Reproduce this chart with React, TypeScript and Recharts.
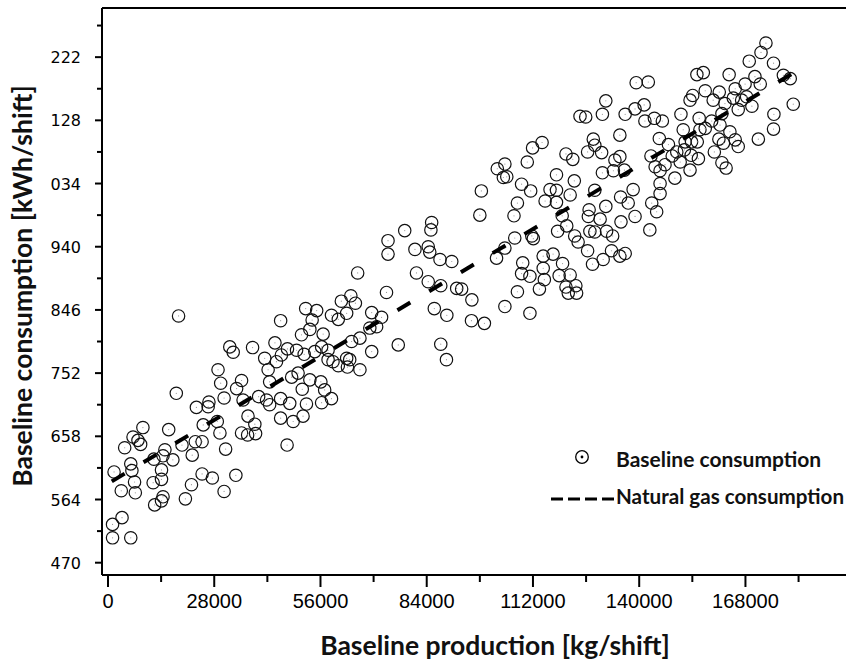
import React from 'react';
import { ScatterChart, Scatter, XAxis, YAxis, ReferenceLine, Legend, Label } from 'recharts';

// baseline production [kg/shift] of each shift
const baselineProduction = [
  18600, 18000, 45500, 52100, 55000, 53800, 58900, 51000, 53200, 56700,
  32100, 33000, 38100, 44000, 41300, 42200, 44400, 45700, 47300, 49700,
  51700, 54500, 58000, 56300, 58000, 59300, 29000, 29700, 30600, 33900,
  35200, 35600, 23300, 26400, 26600, 25100, 28800, 29500, 36900, 38700,
  35200, 36800, 38900, 39700, 41800, 42600, 45500, 45500, 47900, 48800,
  51400, 52300, 56300, 58900, 57100, 56100, 53200, 51200, 50100, 48400,
  42600, 47200, 31000, 33700, 30600, 27500, 24800, 22000, 20400, 22200,
  23000, 24800, 19500, 9200, 6600, 7900, 8600, 4400, 16000, 15000,
  12100, 14500, 17100, 14100, 14100, 11900, 7000, 7200, 3500, 6000,
  6300, 1600, 14500, 12300, 14100, 1200, 3700, 1200, 6000,
  65800, 73400, 61500, 64000, 65200, 60700, 62900, 69500, 72100, 70800,
  69000, 64200, 66400, 69500, 62900, 63700, 66400, 60700, 63100,
  76500, 86000, 89300, 87700, 89200, 95900, 95800, 99200, 104600, 111200,
  121300, 123500,
  85300, 85100, 78200, 73800, 73800, 80900, 84400, 84800, 81300, 84400, 87700,
  131200, 124400, 125900, 130300, 136300, 134900, 114400, 111900, 127900, 128300,
  126400, 130100, 120700, 122500, 134900, 133600, 133200, 130300, 136100, 104600,
  102600, 104200, 105100, 110500, 118200, 122900, 109000, 111400, 116500, 118200,
  121800, 115200, 118200, 128300, 135100, 137100, 98400, 98000, 107900, 107000,
  119700, 120900, 126600, 126800, 129700, 131200, 135200, 118500, 123000, 123900,
  127000, 128300, 131400, 133000, 111700, 112100, 107200, 104600, 102400, 87500,
  90600, 114700, 117300, 119800, 126400, 127700, 130500, 132700, 134900, 136300,
  109300, 109000, 111200, 114700, 115000, 118900, 120700, 121800, 123300, 113700,
  107900, 91900, 93200,
  173400, 172100, 169000, 175400, 178000, 179800, 180600, 175500, 175400, 171400,
  155200, 156900, 163700, 170500, 171900, 167900, 165300, 157400, 161100, 153400,
  154100, 159500, 164800, 167000, 166100, 168300, 169700, 162600, 161800, 151000,
  155800, 159100, 161300, 163900, 165300, 166100, 161000, 162200, 159800, 161800,
  162900, 151600, 152100, 151900, 156000, 157400, 153800, 155300, 153700, 155600,
  149900, 148700, 150800, 147700, 145300, 143100, 144200, 145500, 149400, 153400,
  146800, 145500, 138400, 145500, 143300, 144600, 138900, 138900, 141300, 141500,
  144000, 146100, 139200, 142400, 142800,
];

// baseline consumption [kWh/shift] of the same shifts
const baselineConsumption = [
  837, 722, 830, 848, 845, 831, 838, 809, 817, 810,
  791, 783, 790, 797, 774, 757, 769, 779, 788, 786,
  780, 784, 786, 791, 772, 769, 757, 737, 715, 729,
  741, 712, 701, 702, 709, 675, 680, 663, 688, 676,
  663, 660, 662, 717, 712, 705, 714, 685, 707, 680,
  688, 706, 708, 714, 727, 739, 742, 728, 752, 746,
  739, 645, 639, 600, 576, 596, 602, 586, 565, 630,
  650, 650, 645, 671, 657, 652, 646, 641, 668, 638,
  624, 629, 623, 608, 594, 589, 590, 574, 577, 617,
  607, 605, 568, 556, 562, 527, 537, 507, 507,
  901, 872, 859, 867, 856, 832, 841, 842, 835, 821,
  819, 799, 804, 784, 774, 772, 757, 763, 761,
  794, 848, 838, 795, 772, 861, 830, 826, 851, 841,
  871, 871,
  976, 965, 964, 949, 929, 936, 940, 932, 901, 888, 882,
  1157, 1134, 1133, 1137, 1137, 1106, 1095, 1087, 1100, 1091,
  1081, 1080, 1078, 1070, 1074, 1069, 1053, 1050, 1054, 1063,
  1056, 1043, 1044, 1066, 1047, 1038, 1033, 1023, 1025, 1024,
  1017, 1008, 1006, 1024, 1014, 1005, 1023, 987, 1005, 986,
  986, 971, 985, 995, 981, 1000, 977, 963, 956, 947,
  963, 962, 963, 956, 956, 952, 953, 938, 923, 921,
  918, 926, 929, 915, 934, 914, 921, 934, 926, 930,
  916, 900, 896, 908, 891, 897, 880, 898, 882, 877,
  873, 878, 877,
  1243, 1229, 1216, 1213, 1195, 1190, 1152, 1137, 1115, 1100,
  1196, 1199, 1196, 1193, 1182, 1182, 1175, 1172, 1170, 1158,
  1165, 1158, 1161, 1158, 1144, 1163, 1149, 1153, 1138, 1137,
  1131, 1127, 1121, 1111, 1099, 1089, 1100, 1094, 1081, 1065,
  1057, 1114, 1096, 1084, 1114, 1116, 1096, 1096, 1076, 1071,
  1081, 1075, 1066, 1092, 1101, 1075, 1059, 1053, 1042, 1054,
  1062, 1034, 1025, 1019, 1005, 992, 985, 1145, 1151, 1127,
  1131, 1127, 1184, 1185, 965,
];

// natural gas consumption trend (dashed line end points)
const fitProduction = [1000, 180500];
const fitConsumption = [591, 1198];

const xMajorTicks = [0, 28000, 56000, 84000, 112000, 140000, 168000];
const xMinorTicks = [14000, 42000, 70000, 98000, 126000, 154000, 182000];
const yMajorTicks = [470, 564, 658, 752, 846, 940, 1034, 1128, 1222];
const yMinorTicks = [517, 611, 705, 799, 893, 987, 1081, 1175, 1269];

const points = baselineProduction.map((x, i) => ({ x, y: baselineConsumption[i] }));
const fitPoints = fitProduction.map((x, i) => ({ x, y: fitConsumption[i] }));

const X_MIN = -1580;
const X_MAX = 194500;
const Y_MIN = 451.7;
const Y_MAX = 1295.1;

const titleFont = "Lato, 'Open Sans', sans-serif";

const XTick = (props: any) => {
  const { x, y, payload } = props;
  const major = xMajorTicks.includes(payload.value);
  return (
    <g>
      <line x1={x} x2={x} y1={y} y2={y + (major ? 12 : 7)} stroke="#000" strokeWidth={2} />
      {major && (
        <text
          x={x}
          y={y + 33}
          textAnchor="middle"
          fontFamily="'Liberation Sans Narrow', 'Liberation Sans', Arial, sans-serif"
          fontSize={20}
          fill="#000"
        >
          {payload.value}
        </text>
      )}
    </g>
  );
};

const YTick = (props: any) => {
  const { x, y, payload } = props;
  const major = yMajorTicks.includes(payload.value);
  const v = payload.value;
  const txt = v >= 1000 ? String(v).slice(1) : String(v);
  return (
    <g>
      <line x1={x - (major ? 7 : 5)} x2={x} y1={y} y2={y} stroke="#000" strokeWidth={2} />
      {major && (
        <text x={x - 21} y={y + 6} textAnchor="end" fontFamily="'DejaVu Sans', Verdana, sans-serif" fontSize={16} fill="#000">
          {txt}
        </text>
      )}
    </g>
  );
};

const Ring = (props: any) => {
  const { cx, cy } = props;
  return (
    <g>
      <circle cx={cx} cy={cy} r={6.2} fill="none" stroke="#111" strokeWidth={1.2} />
      <circle cx={cx} cy={cy} r={0.6} fill="#999" />
    </g>
  );
};

const Nothing = () => <g />;

const LegendBox = () => (
  <svg width={301} height={80} style={{ display: 'block', overflow: 'hidden' }}>
    <circle cx={37} cy={17} r={6.3} fill="none" stroke="#000" strokeWidth={1.3} />
    <circle cx={37} cy={17} r={1.4} fill="#000" />
    <text x={71} y={27} fontFamily={titleFont} fontWeight="bold" fontSize={21} fill="#111">
      Baseline consumption
    </text>
    <line x1={6} x2={69} y1={59} y2={59} stroke="#000" strokeWidth={3} strokeDasharray="12 5" />
    <text x={71} y={64} fontFamily={titleFont} fontWeight="bold" fontSize={20.6} fill="#111">
      Natural gas consumption
    </text>
  </svg>
);

export default function App() {
  return (
    <div style={{ position: 'absolute', left: 0, top: 0, width: 846, height: 660, overflow: 'hidden', background: '#fff' }}>
      <ScatterChart width={846} height={660} margin={{ top: 8, right: 0, bottom: 0, left: 0 }}>
        <XAxis
          type="number"
          dataKey="x"
          domain={[X_MIN, X_MAX]}
          allowDataOverflow
          ticks={[...xMajorTicks, ...xMinorTicks].sort((a, b) => a - b)}
          interval={0}
          tick={(p: any) => <XTick {...p} />}
          tickLine={false}
          tickSize={0}
          tickMargin={0}
          axisLine={{ stroke: '#000', strokeWidth: 2 }}
          height={85}
        >
          <Label
            content={() => (
              <text x={495} y={655} textAnchor="middle" fontFamily={titleFont} fontWeight="bold" fontSize={26.5} fill="#111">
                Baseline production [kg/shift]
              </text>
            )}
          />
        </XAxis>
        <YAxis
          type="number"
          dataKey="y"
          domain={[Y_MIN, Y_MAX]}
          allowDataOverflow
          ticks={[...yMajorTicks, ...yMinorTicks].sort((a, b) => a - b)}
          interval={0}
          tick={(p: any) => <YTick {...p} />}
          tickLine={false}
          tickSize={0}
          tickMargin={0}
          axisLine={{ stroke: '#000', strokeWidth: 2 }}
          width={102}
        >
          <Label
            content={() => (
              <text
                x={22}
                y={286}
                transform="rotate(-90, 22, 286)"
                textAnchor="middle"
                dominantBaseline="central"
                fontFamily={titleFont}
                fontWeight="bold"
                fontSize={26.5}
                fill="#111"
              >
                Baseline consumption [kWh/shift]
              </text>
            )}
          />
        </YAxis>
        <ReferenceLine y={Y_MAX} stroke="#000" strokeWidth={2} ifOverflow="visible" />
        <Scatter data={points} shape={Ring} isAnimationActive={false} />
        <Scatter
          data={fitPoints}
          shape={Nothing}
          line={{ stroke: '#000', strokeWidth: 4, strokeDasharray: '15 22' }}
          isAnimationActive={false}
        />
        <Legend
          layout="horizontal"
          verticalAlign="middle"
          align="center"
          content={LegendBox}
          wrapperStyle={{ position: 'absolute', left: 545, top: 440, width: 301, height: 80 }}
        />
      </ScatterChart>
    </div>
  );
}
